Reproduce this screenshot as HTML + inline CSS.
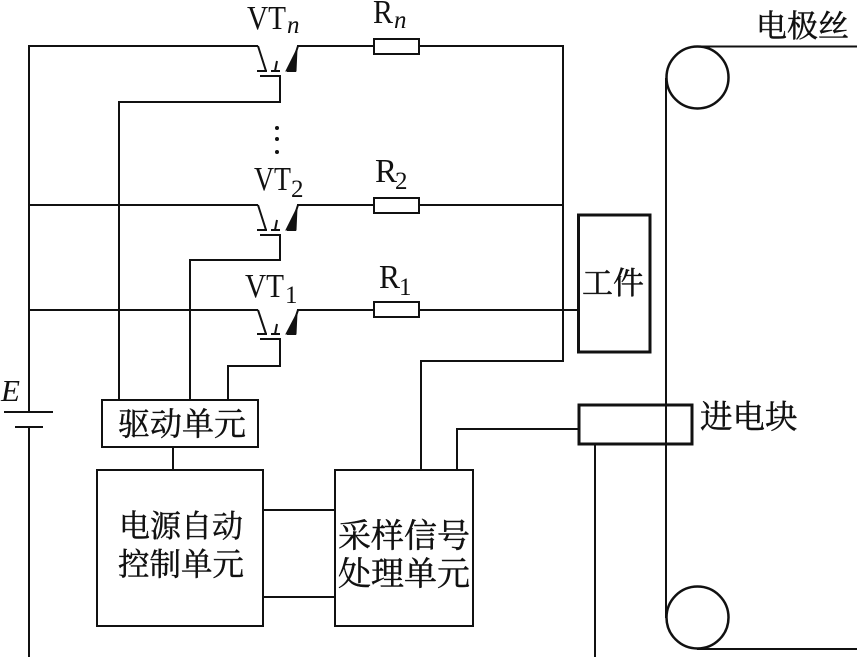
<!DOCTYPE html>
<html><head><meta charset="utf-8"><style>
html,body{margin:0;padding:0;background:#fff}
svg{display:block}
.c{font-family:"Liberation Serif","Noto Serif CJK SC",serif;fill:#111;stroke:#111;stroke-width:.45}
.l{font-family:"Liberation Serif",serif;fill:#111}
</style></head><body>
<svg width="862" height="657" viewBox="0 0 862 657" xmlns="http://www.w3.org/2000/svg">
<g fill="none" stroke="#111" stroke-width="2">
<path d="M29 412V46H258"/>
<path d="M29 427V657"/>
<path d="M4 412H53M15 427H43"/>
<path d="M29 205H258M29 310H258"/>
<path d="M297 46H374M419 46H563V361H421V470"/>
<path d="M297 205H374M419 205H563"/>
<path d="M297 310H374M419 310H578"/>
<rect x="374" y="39" width="45" height="15"/>
<rect x="374" y="198" width="45" height="15"/>
<rect x="374" y="302" width="45" height="15"/>
<!-- transistors -->
<path d="M258 46L266 71M257 71H267M271 71H280M277 61L275 71M298 46L290 71M287 71H296"/>
<path d="M260 76H280V102H119V400"/>
<path d="M297 49L286 71H296Z" fill="#111" stroke-width="1"/>
<path d="M258 205L266 230M257 230H267M271 230H280M277 220L275 230M298 205L290 230M287 230H296"/>
<path d="M260 235H280V260H190V400"/>
<path d="M297 208L286 230H296Z" fill="#111" stroke-width="1"/>
<path d="M258 310L266 334M257 334H267M271 334H280M277 324L275 334M298 310L290 334M287 334H296"/>
<path d="M260 339H280V366H228V400"/>
<path d="M297 313L286 334H296Z" fill="#111" stroke-width="1"/>
<!-- boxes -->
<rect x="102" y="400" width="156" height="47"/>
<path d="M173 447V470"/>
<rect x="97" y="470" width="166" height="156"/>
<rect x="335" y="470" width="138" height="156"/>
<path d="M263 510H335M263 597H335"/>
<path d="M457 470V429H579"/>
<path d="M595 444V657"/>
<rect x="578.500" y="215" width="71.500" height="137" stroke-width="3"/>
<rect x="579" y="405" width="113" height="39" stroke-width="3"/>
<path d="M666 78V618"/>
<circle cx="697.500" cy="77.500" r="31" stroke-width="2.500"/>
<circle cx="697.500" cy="617.500" r="31" stroke-width="2.500"/>
<path d="M697 46.500H857M697 649H857"/>
</g>
<g fill="#111"><circle cx="277" cy="128" r="2"/><circle cx="277" cy="139" r="2"/><circle cx="277" cy="152" r="2"/></g>
<!-- labels -->
<g class="l" font-size="34">
<text x="247" y="29" textLength="39" lengthAdjust="spacingAndGlyphs">VT</text>
<text x="287" y="33" font-size="25" font-style="italic">n</text>
<text x="373" y="23" textLength="20" lengthAdjust="spacingAndGlyphs">R</text>
<text x="394" y="28" font-size="25" font-style="italic">n</text>
<text x="254" y="190" textLength="37" lengthAdjust="spacingAndGlyphs">VT</text>
<text x="291" y="197" font-size="25">2</text>
<text x="375" y="182" textLength="22" lengthAdjust="spacingAndGlyphs">R</text>
<text x="395" y="189" font-size="25">2</text>
<text x="245" y="297" textLength="39" lengthAdjust="spacingAndGlyphs">VT</text>
<text x="285" y="303" font-size="25">1</text>
<text x="379" y="288" textLength="21" lengthAdjust="spacingAndGlyphs">R</text>
<text x="399" y="295" font-size="25">1</text>
<text x="1" y="401" font-style="italic" font-size="31">E</text>
</g>
<g class="c" font-size="31">
<text x="118" y="435" font-size="32">驱动单元</text>
<text x="119" y="537">电源自动</text>
<text x="118" y="575" font-size="31.500">控制单元</text>
<text x="338" y="547" font-size="33">采样信号</text>
<text x="338" y="585" font-size="33">处理单元</text>
<text x="582" y="294">工件</text>
<text x="700" y="428" font-size="32.500">进电块</text>
<text x="756" y="37">电极丝</text>
</g>
</svg>
</body></html>
